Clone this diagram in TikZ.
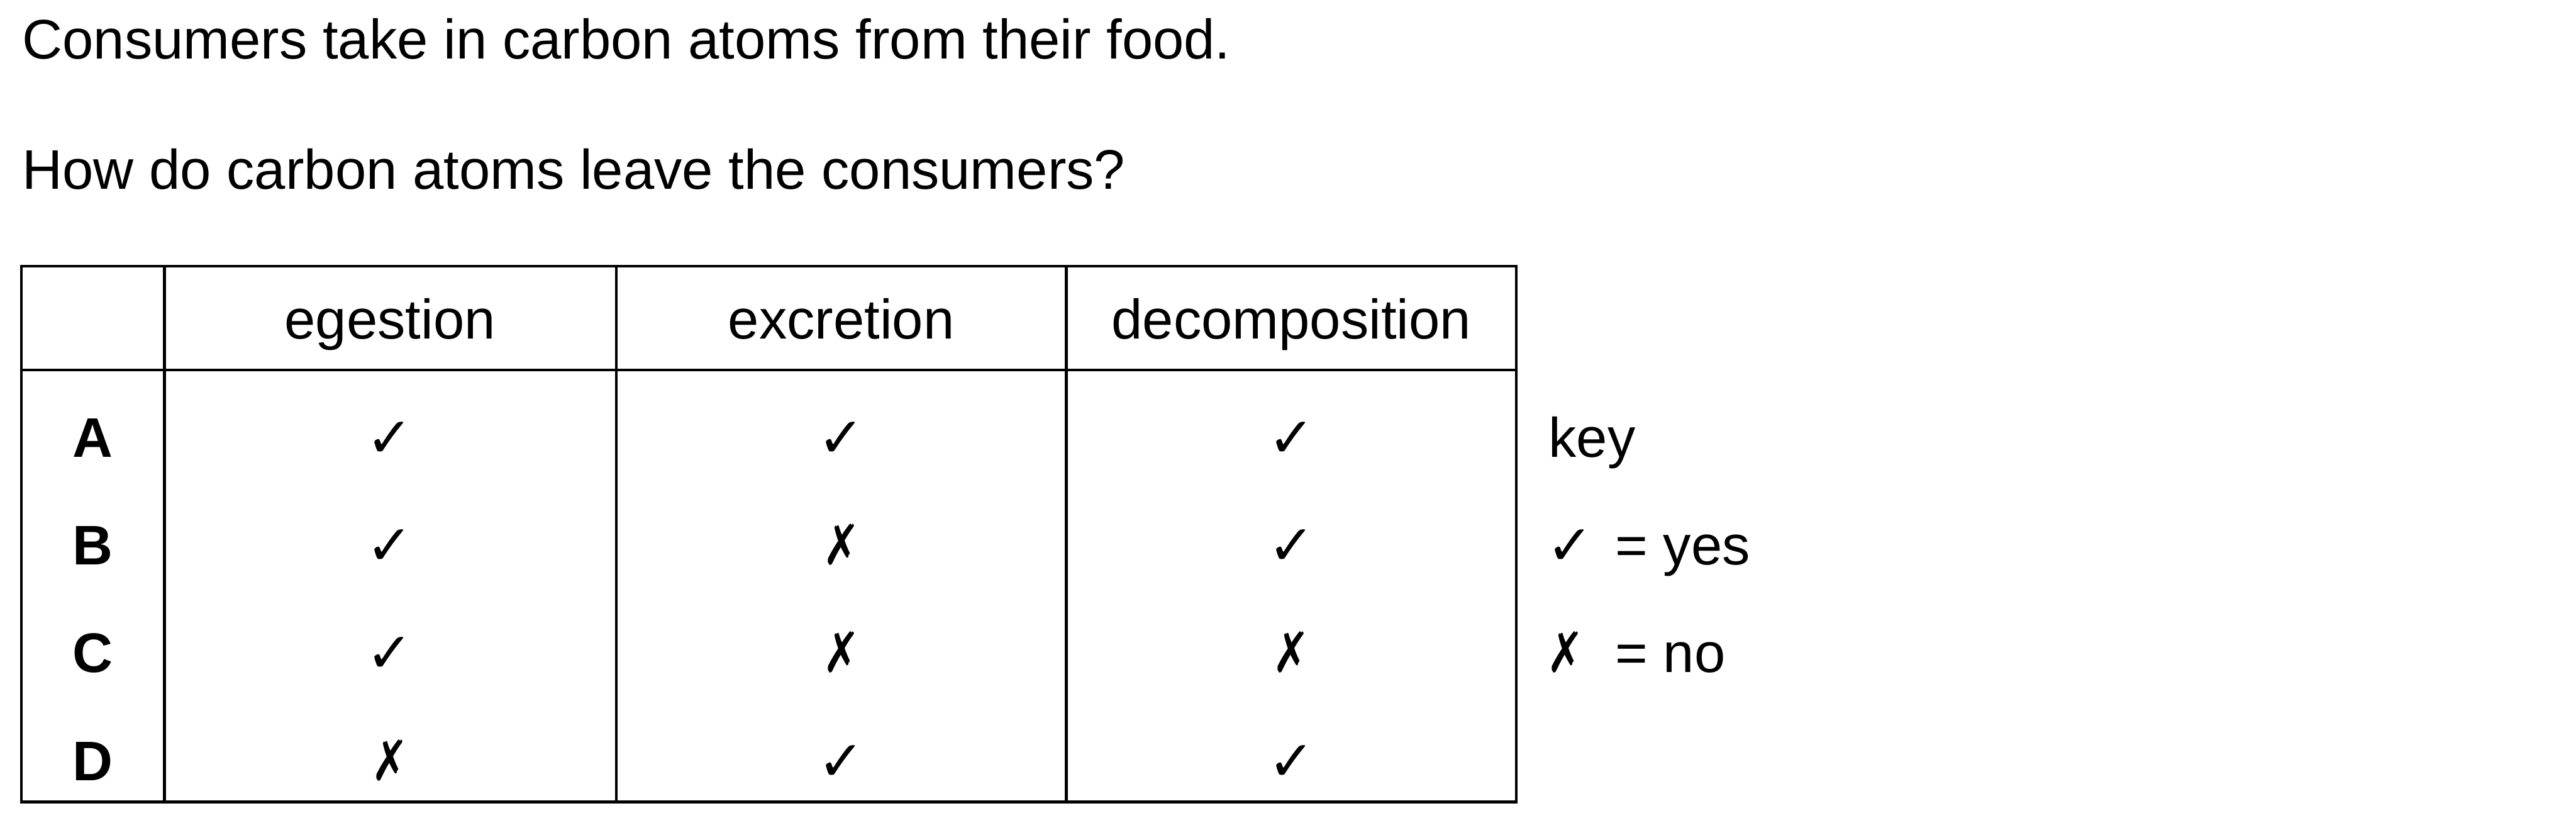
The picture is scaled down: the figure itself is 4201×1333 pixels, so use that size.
\documentclass[tikz,border=0pt]{standalone}
\usepackage{fontspec}
\setmainfont{Liberation Sans}
\newfontfamily\marksfont{DejaVu Sans}
\newcommand{\yesmark}{{\marksfont ✓}}
\newcommand{\nomark}{\scalebox{0.8}[1]{\marksfont ✗}}
\tikzset{%
  txt/.style={inner sep=0,anchor=base west,font=\fontsize{12}{14}\selectfont},
  hdr/.style={inner sep=0,anchor=base,font=\fontsize{12}{14}\selectfont},
  lbl/.style={inner sep=0,anchor=base,font=\fontsize{12}{14}\selectfont\bfseries},
  mrk/.style={inner sep=0,anchor=base,font=\fontsize{12}{14}\selectfont},
  grid/.style={draw=black,line width=0.6pt}
}
\begin{document}
\begin{tikzpicture}[x=0.132pt,y=-0.132pt]
    \useasboundingbox (0,0) rectangle (4201,1333);
    \path
      (35,96) node[txt] (q1) {Consumers take in carbon atoms from their food.}
      (35,308) node[txt] (q2) {How do carbon atoms leave the consumers?};
    \draw[grid] (35,434) rectangle (2473,1307);
    \draw[grid] (35,603) -- (2473,603)
      (268,434) -- (268,1307) (1005,434) -- (1005,1307) (1739,434) -- (1739,1307);
    \path
      (636,552) node[hdr] (eg) {egestion} (1372,552) node[hdr] (ex) {excretion} (2106,552) node[hdr] (dc) {decomposition};
    \path
      (151,745) node[lbl] (ra) {A} (636,745) node[mrk] (a1) {\yesmark} (1372,745) node[mrk] (a2) {\yesmark} (2106,745) node[mrk] (a3) {\yesmark}
      (151,921) node[lbl] (rb) {B} (636,921) node[mrk] (b1) {\yesmark} (1372,921) node[mrk] (b2) {\nomark} (2106,921) node[mrk] (b3) {\yesmark}
      (151,1096) node[lbl] (rc) {C} (636,1096) node[mrk] (c1) {\yesmark} (1372,1096) node[mrk] (c2) {\nomark} (2106,1096) node[mrk] (c3) {\nomark}
      (151,1272) node[lbl] (rd) {D} (636,1272) node[mrk] (d1) {\nomark} (1372,1272) node[mrk] (d2) {\yesmark} (2106,1272) node[mrk] (d3) {\yesmark};
    \path
      (2524,745) node[txt] (key) {key}
      (2521,921) node[txt] (ky) {\yesmark} (2633,921) node[txt] (kyt) {= yes}
      (2521,1096) node[txt] (kn) {\nomark} (2633,1096) node[txt] (knt) {= no};
  \end{tikzpicture}
\end{document}
